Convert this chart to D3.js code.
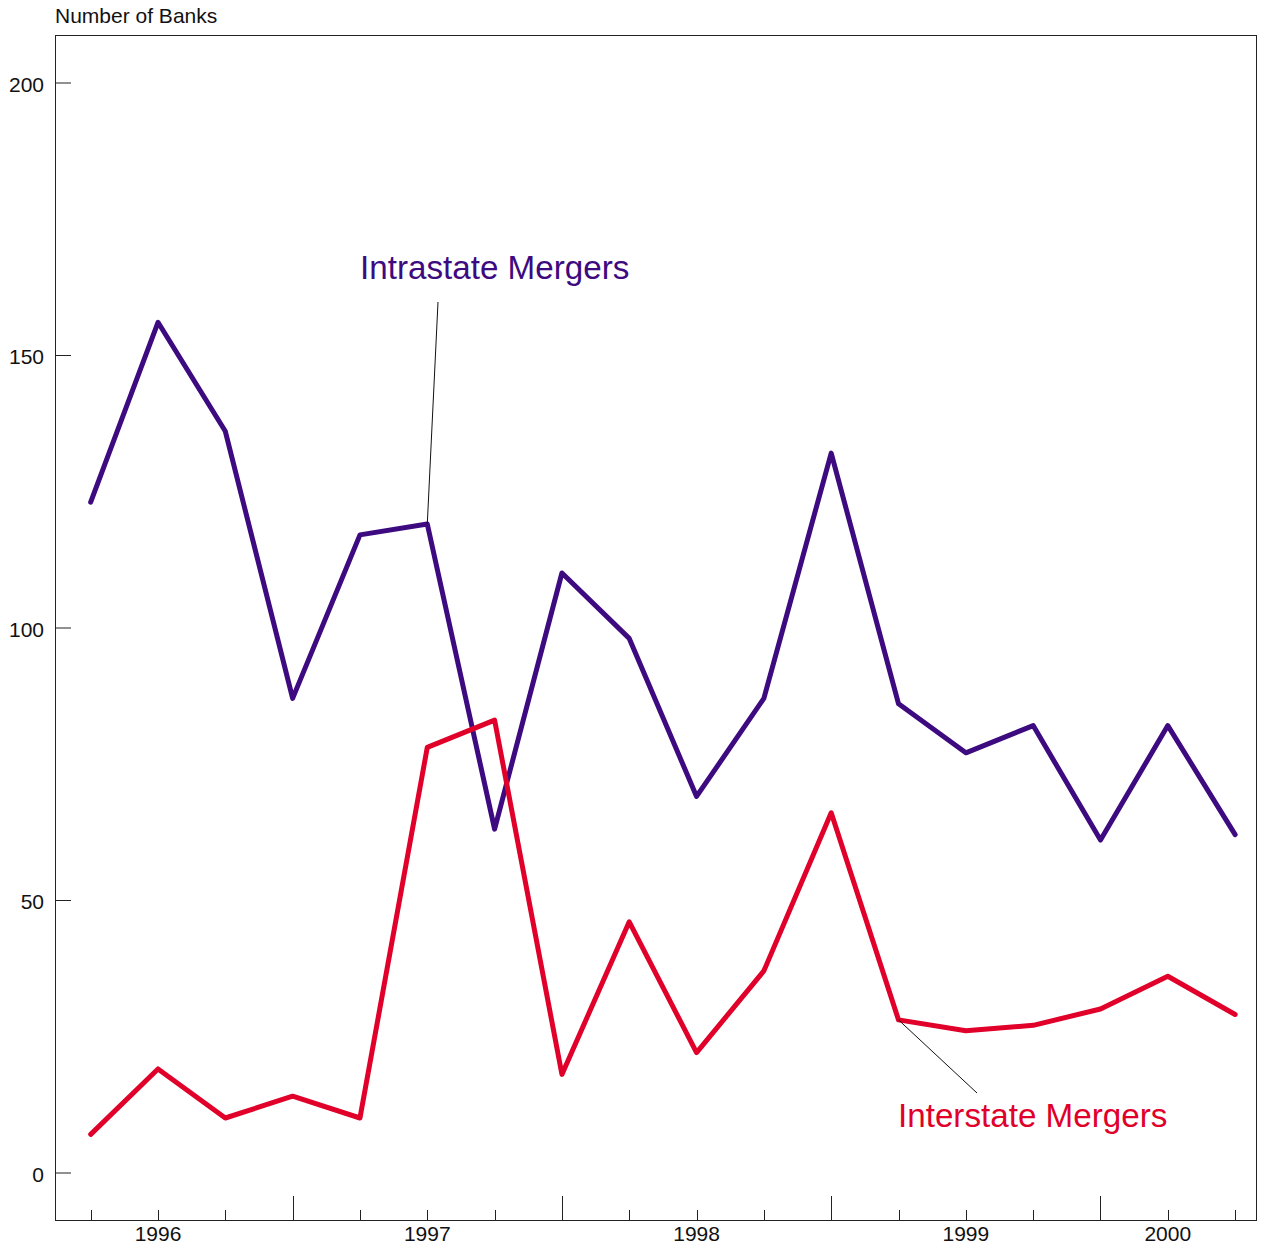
<!DOCTYPE html>
<html>
<head>
<meta charset="utf-8">
<script src="https://cdn.jsdelivr.net/npm/d3@7"></script>
<style>
  body { margin: 0; background: #fff; }
  text { font-family: "Liberation Sans", Arial, sans-serif; }
</style>
</head>
<body>
<script>
// quarterly observations, 1995 Q4 .. 2000 Q1
var quarters = d3.range(18);
var intrastate = [123,156,136,87,117,119,63,110,98,69,87,132,86,77,82,61,82,62];
var interstate = [7,19,10,14,10,78,83,18,46,22,37,66,28,26,27,30,36,29];
var yTicks = [0,50,100,150,200];
var yearLabels = ["1996","1997","1998","1999","2000"];
var yearAt = [1,5,9,13,16];
var longTicks = [3,7,11,15];

var W = 1265, H = 1249;
var plotL = 55, plotR = 1256, plotT = 35, plotB = 1220;

var svg = d3.select("body").append("svg")
    .attr("width", W)
    .attr("height", H);

var x = d3.scaleLinear()
    .domain([-0.53, 17.31])
    .range([plotL, plotR]);

var y = d3.scaleLinear()
    .domain([0, 200])
    .range([1172.5, 82.5]);

// frame
svg.append("rect")
    .attr("x", plotL + 0.5)
    .attr("y", plotT + 0.5)
    .attr("width", plotR - plotL)
    .attr("height", plotB - plotT)
    .attr("fill", "none")
    .attr("stroke", "#222")
    .attr("stroke-width", 1);

// y axis: inward ticks
var yAxis = svg.append("g")
    .attr("transform", "translate(" + plotL + ",0)")
    .call(d3.axisRight(y).tickValues(yTicks).tickSize(16).tickFormat(""));
yAxis.select(".domain").remove();
yAxis.selectAll("line").attr("stroke", "#222");

svg.selectAll(".ylab")
    .data(yTicks)
  .enter().append("text")
    .attr("class", "ylab")
    .attr("x", 44)
    .attr("y", function(d) { return y(d) + 9; })
    .attr("text-anchor", "end")
    .attr("font-size", 21)
    .attr("fill", "#111")
    .text(function(d) { return d; });

// x axis: quarter ticks, longer at mid-year
svg.selectAll(".xtick")
    .data(quarters)
  .enter().append("line")
    .attr("class", "xtick")
    .attr("x1", function(d) { return Math.round(x(d)) + 0.5; })
    .attr("x2", function(d) { return Math.round(x(d)) + 0.5; })
    .attr("y1", plotB)
    .attr("y2", function(d) { return longTicks.indexOf(d) >= 0 ? plotB - 24 : plotB - 10; })
    .attr("stroke", "#222")
    .attr("stroke-width", 1);

svg.selectAll(".xlab")
    .data(yearLabels)
  .enter().append("text")
    .attr("class", "xlab")
    .attr("x", function(d, i) { return x(yearAt[i]); })
    .attr("y", 1241)
    .attr("text-anchor", "middle")
    .attr("font-size", 21)
    .attr("fill", "#111")
    .text(function(d) { return d; });

svg.append("text")
    .attr("x", 55)
    .attr("y", 23)
    .attr("font-size", 21)
    .attr("fill", "#111")
    .text("Number of Banks");

var line = d3.line()
    .x(function(d, i) { return x(quarters[i]); })
    .y(function(d) { return y(d); });

svg.append("path")
    .datum(intrastate)
    .attr("d", line)
    .attr("fill", "none")
    .attr("stroke", "#3d0a80")
    .attr("stroke-width", 5)
    .attr("stroke-linejoin", "round")
    .attr("stroke-linecap", "round");

svg.append("path")
    .datum(interstate)
    .attr("d", line)
    .attr("fill", "none")
    .attr("stroke", "#e0002a")
    .attr("stroke-width", 5)
    .attr("stroke-linejoin", "round")
    .attr("stroke-linecap", "round");

// labels with leader lines
svg.append("line")
    .attr("x1", 438).attr("y1", 302)
    .attr("x2", x(5)).attr("y2", y(intrastate[5]))
    .attr("stroke", "#111").attr("stroke-width", 1);

svg.append("text")
    .attr("x", 360)
    .attr("y", 279)
    .attr("font-size", 33.2)
    .attr("fill", "#3d0a80")
    .text("Intrastate Mergers");

svg.append("line")
    .attr("x1", x(12)).attr("y1", y(interstate[12]))
    .attr("x2", 977).attr("y2", 1093)
    .attr("stroke", "#111").attr("stroke-width", 1);

svg.append("text")
    .attr("x", 898)
    .attr("y", 1127)
    .attr("font-size", 33.2)
    .attr("fill", "#e0002a")
    .text("Interstate Mergers");
</script>
</body>
</html>
